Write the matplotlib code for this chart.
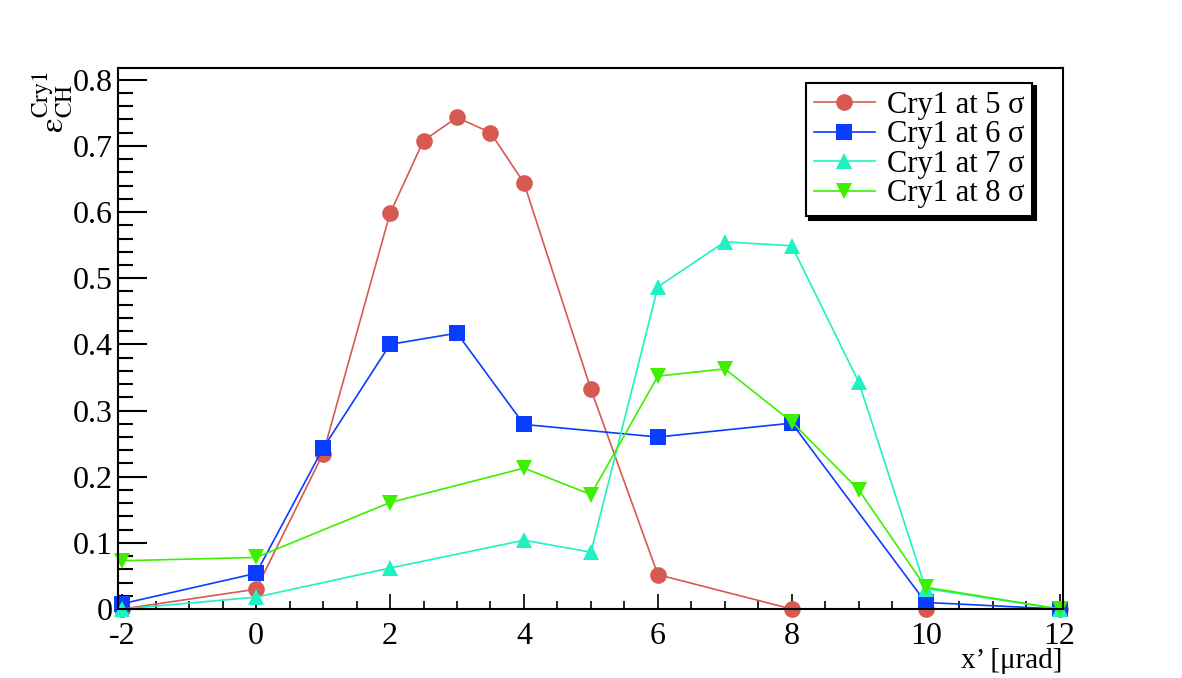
import numpy as np
import matplotlib
matplotlib.use('Agg')
from matplotlib import pyplot as plt
from matplotlib.ticker import MultipleLocator

plt.rcParams['font.family'] = ['Liberation Serif', 'DejaVu Serif']
plt.rcParams['mathtext.fontset'] = 'stix'
plt.rcParams['axes.unicode_minus'] = False

# Cry1 at 5 sigma
x5 = [-2, 0, 1, 2, 2.5, 3, 3.5, 4, 5, 6, 8, 10, 12]
y5 = [0.0, 0.03, 0.235, 0.598, 0.708, 0.743, 0.72, 0.644, 0.332, 0.052, 0.0, 0.0, 0.0]
# Cry1 at 6 sigma
x6 = [-2, 0, 1, 2, 3, 4, 6, 8, 10, 12]
y6 = [0.008, 0.054, 0.243, 0.40, 0.417, 0.279, 0.26, 0.281, 0.01, 0.0]
# Cry1 at 7 sigma
x7 = [-2, 0, 2, 4, 5, 6, 7, 8, 9, 10, 12]
y7 = [0.0, 0.018, 0.062, 0.104, 0.086, 0.487, 0.555, 0.549, 0.343, 0.031, 0.0]
# Cry1 at 8 sigma
x8 = [-2, 0, 2, 4, 5, 6, 7, 8, 9, 10, 12]
y8 = [0.073, 0.078, 0.161, 0.213, 0.173, 0.352, 0.363, 0.283, 0.18, 0.033, 0.0]

labels = [u'Cry1 at 5 \u03c3', u'Cry1 at 6 \u03c3', u'Cry1 at 7 \u03c3', u'Cry1 at 8 \u03c3']
colors = ['#d65a52', '#0a3dff', '#1ef2c2', '#3cf000']
markers = ['o', 's', '^', 'v']

fig = plt.figure(figsize=(11.82, 6.78), dpi=100)
ax = fig.add_axes([0.1, 0.1017, 0.7993, 0.7983])

series = [(x5, y5), (x6, y6), (x7, y7), (x8, y8)]
sizes = [12, 11, 12, 12]
for (xs, ys), lab, c, m, ms in zip(series, labels, colors, markers, sizes):
    ax.plot(xs, ys, color=c, marker=m, markersize=ms, linewidth=1.2,
            markeredgewidth=0, label=lab, clip_on=False)

ax.set_xlim(-2.06, 12.05)
ax.set_ylim(0, 0.818)

ax.xaxis.set_major_locator(MultipleLocator(2))
ax.xaxis.set_minor_locator(MultipleLocator(0.5))
ax.yaxis.set_major_locator(MultipleLocator(0.1))
ax.yaxis.set_minor_locator(MultipleLocator(0.02))
ax.set_yticks([0, 0.1, 0.2, 0.3, 0.4, 0.5, 0.6, 0.7, 0.8])
ax.set_yticklabels(['0', '0.1', '0.2', '0.3', '0.4', '0.5', '0.6', '0.7', '0.8'])

ax.tick_params(axis='x', which='major', direction='in', length=11, width=1.2,
               labelsize=23, pad=9)
ax.tick_params(axis='x', which='minor', direction='in', length=5.5, width=1.2)
ax.tick_params(axis='y', which='major', direction='in', length=21, width=1.5,
               labelsize=23, pad=4)
ax.tick_params(axis='y', which='minor', direction='in', length=11, width=1.5)
for s in ax.spines.values():
    s.set_linewidth(1.5)

fig.text(0.899, 0.006, u'x\u2019 [\u03bcrad]', ha='right', va='bottom', fontsize=21)
fig.text(0.045, 0.895, r'$\mathrm{\u03b5}^{\mathrm{Cry1}}_{\mathrm{CH}}$'.replace('\\u03b5', u'\u03b5'),
         rotation=90, ha='center', va='top', fontsize=24)

leg = ax.legend(loc='upper left', bbox_to_anchor=(0.728, 0.972), fontsize=22,
                frameon=True, fancybox=False, edgecolor='black',
                shadow={'color': 'black', 'alpha': 1, 'ox': 2.5, 'oy': -2.5},
                handlelength=2.0, handletextpad=0.4, borderpad=0.25,
                labelspacing=0.02, borderaxespad=0)
leg.get_frame().set_linewidth(1.5)

fig.savefig('out.png', dpi=100)
